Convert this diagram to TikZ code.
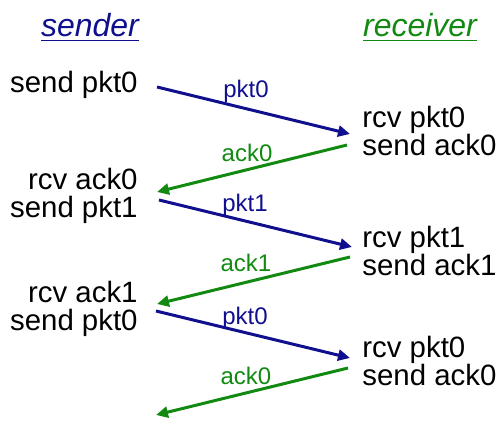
\documentclass[tikz,border=0pt]{standalone}
\usepackage{fontspec}
\setmainfont{Liberation Sans}
\usepackage{xcolor}
\usetikzlibrary{arrows.meta}

\begin{document}
\begin{tikzpicture}[
  x=0.5pt, y=-0.5pt,
  font=\fontsize{14.7pt}{14pt}\selectfont,
  said/.style={inner sep=0pt, align=right, anchor=base east},
  heard/.style={inner sep=0pt, align=left, anchor=base west},
  title/.style={inner sep=0pt, anchor=base, font=\fontsize{16pt}{18pt}\selectfont\itshape},
  lbl/.style={inner sep=0pt, anchor=base, font=\fontsize{12pt}{14pt}\selectfont},
  msg/.style={line width=1.5pt, -{Triangle[length=6pt, width=5.5pt]}},
]
\definecolor{pktBlue}{HTML}{10108F}
\definecolor{ackGreen}{HTML}{128A12}
\useasboundingbox (0,0) rectangle (503,432);

% column heads
\node[title, color=pktBlue] (sender) at (90,37) {\underline{sender}};
\node[title, color=ackGreen] (receiver) at (420,37) {\underline{receiver}};

% sender side (base = last line)
\node[said] (snd1) at (138,93) {send pkt0};
\node[said] (snd2) at (138,218) {rcv ack0\\send pkt1};
\node[said] (snd3) at (138,331) {rcv ack1\\send pkt0};

% receiver side
\node[heard] (rcv1) at (362,156) {rcv pkt0\\send ack0};
\node[heard] (rcv2) at (362,276) {rcv pkt1\\send ack1};
\node[heard] (rcv3) at (362,386) {rcv pkt0\\send ack0};

% where the messages leave and arrive
\coordinate (sOut1) at (157,87);
\coordinate (rIn1) at (350,134);
\coordinate (rOut1) at (347,145);
\coordinate (sIn1) at (157,192);
\coordinate (sOut2) at (159,200);
\coordinate (rIn2) at (352,247);
\coordinate (rOut2) at (350,257);
\coordinate (sIn2) at (157,304);
\coordinate (sOut3) at (156,311);
\coordinate (rIn3) at (350,358);
\coordinate (rOut3) at (348,368);
\coordinate (sIn3) at (156,415);

\draw[msg, color=pktBlue] (sOut1) -- (rIn1);
\draw[msg, color=ackGreen] (rOut1) -- (sIn1);
\draw[msg, color=pktBlue] (sOut2) -- (rIn2);
\draw[msg, color=ackGreen] (rOut2) -- (sIn2);
\draw[msg, color=pktBlue] (sOut3) -- (rIn3);
\draw[msg, color=ackGreen] (rOut3) -- (sIn3);

\node[lbl, color=pktBlue] (pkt1) at (246,98) {pkt0};
\node[lbl, color=ackGreen] (ack1) at (247,162) {ack0};
\node[lbl, color=pktBlue] (pkt2) at (245,212) {pkt1};
\node[lbl, color=ackGreen] (ack2) at (246,272) {ack1};
\node[lbl, color=pktBlue] (pkt3) at (245,325) {pkt0};
\node[lbl, color=ackGreen] (ack3) at (246,385) {ack0};
\end{tikzpicture}
\end{document}
